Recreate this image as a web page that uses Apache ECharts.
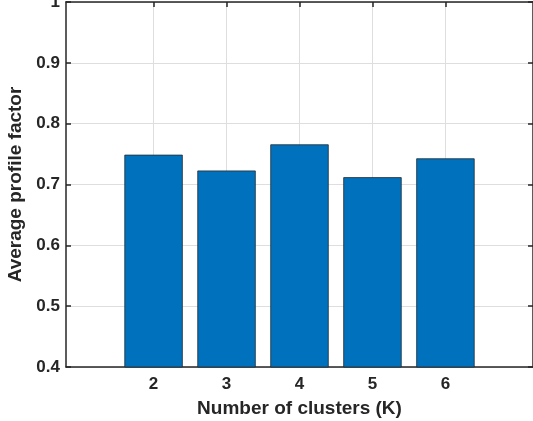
<!DOCTYPE html>
<html>
<head>
<meta charset="utf-8">
<script src="https://cdn.jsdelivr.net/npm/echarts@6/dist/echarts.min.js"></script>
<style>
html,body{margin:0;padding:0;background:#fff;}
#c{width:533px;height:421px;}
</style>
</head>
<body>
<div id="c"></div>
<script>
const clusters = [2, 3, 4, 5, 6];
const profileFactor = [0.749, 0.723, 0.766, 0.712, 0.743];
const yTicks = [0.4, 0.5, 0.6, 0.7, 0.8, 0.9, 1];

const chart = echarts.init(document.getElementById('c'), null, {renderer: 'canvas'});
const font = '"Liberation Sans", Arial, Helvetica, sans-serif';
const axisColor = '#262626';
const gridColor = '#dedede';

const xBase = {
  type: 'value', min: 0.8, max: 7.2,
  axisLine: {show: true, onZero: false, lineStyle: {color: axisColor, width: 1.5}},
  axisTick: {show: true, inside: true, length: 5, customValues: clusters, lineStyle: {color: axisColor, width: 1.5}},
  splitLine: {show: false}
};
const yBase = {
  type: 'value', min: 0.4, max: 1, interval: 0.1,
  axisLine: {show: true, onZero: false, lineStyle: {color: axisColor, width: 1.5}},
  axisTick: {show: true, inside: true, length: 5, lineStyle: {color: axisColor, width: 1.5}},
  splitLine: {show: false}
};

chart.setOption({
  animation: false,
  backgroundColor: '#fff',
  grid: {left: 66, right: 0, top: 2, bottom: 54, containLabel: false, outerBoundsMode: 'none'},
  xAxis: [
    Object.assign({}, xBase, {
      position: 'bottom',
      name: 'Number of clusters (K)', nameLocation: 'middle', nameGap: 32,
      nameTextStyle: {fontFamily: font, fontWeight: 'bold', fontSize: 19, color: axisColor},
      axisLabel: {show: true, customValues: clusters, margin: 9, fontFamily: font, fontWeight: 'bold', fontSize: 17, color: axisColor,
        formatter: v => String(v)},
      splitLine: {show: true, lineStyle: {color: gridColor, width: 1}}
    }),
    Object.assign({}, xBase, {position: 'top', axisLabel: {show: false}})
  ],
  yAxis: [
    Object.assign({}, yBase, {
      position: 'left',
      name: 'Average profile factor', nameLocation: 'middle', nameGap: 38,
      nameTextStyle: {fontFamily: font, fontWeight: 'bold', fontSize: 19, color: axisColor},
      axisLabel: {show: true, margin: 6, fontFamily: font, fontWeight: 'bold', fontSize: 17, color: axisColor,
        formatter: v => (Math.abs(v - 1) < 1e-9 ? '1' : v.toFixed(1))},
      splitLine: {show: true, lineStyle: {color: gridColor, width: 1}}
    }),
    Object.assign({}, yBase, {position: 'right', axisLabel: {show: false}})
  ],
  series: [{
    type: 'bar',
    xAxisIndex: 0, yAxisIndex: 0,
    data: clusters.map((k, i) => [k, profileFactor[i]]),
    barWidth: '80%',
    itemStyle: {color: '#0072BD', borderColor: '#1f2a33', borderWidth: 0.8}
  }]
});
</script>
</body>
</html>
